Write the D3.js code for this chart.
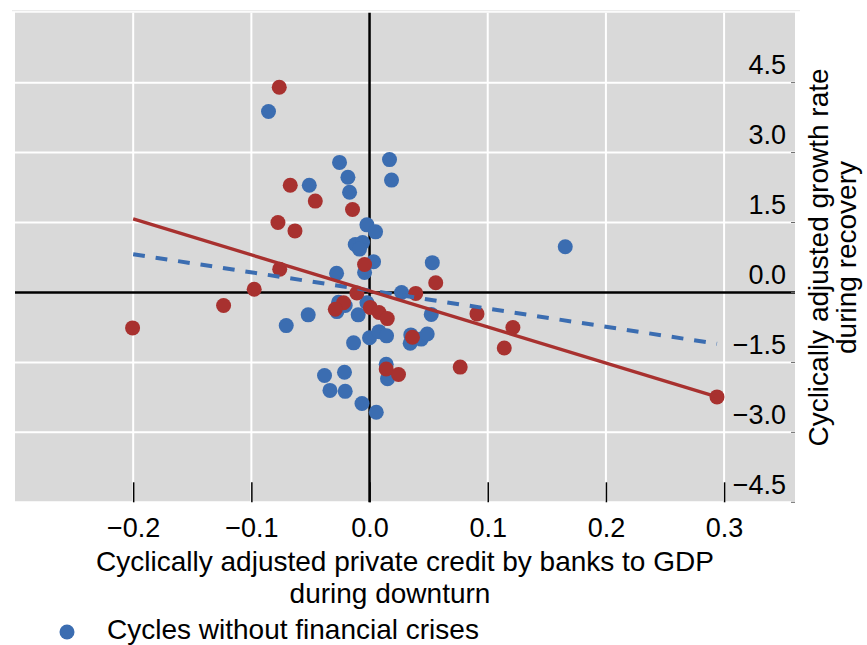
<!DOCTYPE html>
<html lang="en">
<head>
<meta charset="UTF-8" />
<title>Credit during downturn vs growth during recovery</title>
<script src="https://d3js.org/d3.v7.min.js"></script>
<style>
    body { margin: 0; background: #fff; }
    svg text { font-family: "Liberation Sans", Arial, sans-serif; fill: #000; }
</style>
</head>
<body>
<svg id="chart"></svg>
<script>
    // cycles without financial crises: [credit to GDP, growth rate]
    const noCrisis = [
        [-0.0855, 3.88], [-0.0254, 2.79], [0.0169, 2.85], [-0.0183, 2.47], [0.0186, 2.41],
        [-0.0510, 2.30], [-0.0169, 2.15], [-0.0022, 1.45], [0.0051, 1.30], [-0.0121, 1.03],
        [-0.0059, 1.07], [-0.0085, 0.93], [0.1656, 0.98], [0.0034, 0.66], [0.0531, 0.64],
        [-0.0042, 0.43], [-0.0279, 0.41], [0.0271, 0.00], [-0.0262, -0.21], [-0.0206, -0.28],
        [-0.0276, -0.41], [-0.0519, -0.48], [-0.0705, -0.71], [-0.0096, -0.48], [-0.0022, -0.22],
        [0.0522, -0.47], [-0.0135, -1.08], [0.0000, -0.97], [0.0080, -0.84], [0.0144, -0.93],
        [0.0349, -0.91], [0.0344, -1.09], [0.0437, -1.00], [0.0488, -0.89], [0.0141, -1.54],
        [0.0152, -1.85], [-0.0381, -1.78], [-0.0212, -1.71], [-0.0335, -2.10], [-0.0206, -2.12],
        [-0.0064, -2.38], [0.0057, -2.57]
    ];

    // cycles with financial crises
    const crisis = [
        [-0.0764, 4.40], [-0.0671, 2.30], [-0.0459, 1.96], [-0.0144, 1.78], [-0.0775, 1.50],
        [-0.0631, 1.32], [-0.0760, 0.50], [-0.0042, 0.60], [0.0560, 0.21], [-0.0976, 0.07],
        [-0.0107, -0.01], [0.0391, -0.02], [-0.1235, -0.28], [-0.2005, -0.76], [-0.0220, -0.22],
        [-0.0290, -0.36], [0.0006, -0.32], [0.0080, -0.43], [0.0150, -0.56], [0.0909, -0.46],
        [0.1213, -0.75], [0.0363, -0.96], [0.1140, -1.19], [0.0767, -1.60], [0.0141, -1.64],
        [0.0245, -1.76], [0.2940, -2.24]
    ];

    // fitted lines (end points)
    const noCrisisFit = [[-0.2, 0.82], [0.294, -1.10]];
    const crisisFit = [[-0.2, 1.58], [0.294, -2.24]];

    const xTicks = [-0.2, -0.1, 0.0, 0.1, 0.2, 0.3];
    const yTicks = [-4.5, -3.0, -1.5, 0.0, 1.5, 3.0, 4.5];

    const xTitle = ["Cyclically adjusted private credit by banks to GDP", "during downturn"];
    const yTitle = ["Cyclically adjusted growth rate", "during recovery"];
    const legendLabel = "Cycles without financial crises";

    const width = 867, height = 645;
    const plot = { left: 15, right: 795, top: 12.7, bottom: 502.3 };
    const blue = "#3b6db1", red = "#a8312f";

    const svg = d3.select("#chart").attr("width", width).attr("height", height);

    const x = d3.scaleLinear().domain([-0.3, 0.36]).range([plot.left, plot.right]);
    const y = d3.scaleLinear().domain([-4.5, 6.0]).range([plot.bottom, plot.top]);
    const fmt = d3.format(".1f");

    // faint frame line above the panel
    svg.append("line")
        .attr("x1", 12).attr("x2", 800).attr("y1", 10.7).attr("y2", 10.7)
        .attr("stroke", "#e6e6e6").attr("stroke-width", 1);

    svg.append("rect")
        .attr("x", plot.left).attr("y", plot.top)
        .attr("width", plot.right - plot.left).attr("height", plot.bottom - plot.top)
        .attr("fill", "#d9d9d9");

    // grid
    const grid = svg.append("g").attr("stroke", "#fff").attr("stroke-width", 2);
    grid.selectAll("line.v")
        .data(xTicks.filter(d => d !== 0))
        .join("line")
        .attr("class", "v")
        .attr("x1", d => x(d)).attr("x2", d => x(d))
        .attr("y1", plot.top).attr("y2", plot.bottom);
    grid.selectAll("line.h")
        .data(yTicks.filter(d => d !== 0))
        .join("line")
        .attr("class", "h")
        .attr("x1", plot.left).attr("x2", plot.right)
        .attr("y1", d => y(d)).attr("y2", d => y(d));

    // zero lines
    svg.append("line")
        .attr("x1", plot.left).attr("x2", plot.right)
        .attr("y1", y(0)).attr("y2", y(0))
        .attr("stroke", "#000").attr("stroke-width", 2.5);
    svg.append("line")
        .attr("x1", x(0)).attr("x2", x(0))
        .attr("y1", plot.top).attr("y2", plot.bottom)
        .attr("stroke", "#000").attr("stroke-width", 2.5);

    // x axis: inside ticks, labels below
    const xAxis = svg.append("g")
        .attr("transform", `translate(0,${plot.bottom})`)
        .call(d3.axisBottom(x).tickValues(xTicks).tickSize(-20).tickPadding(16).tickFormat(fmt));
    xAxis.select(".domain").remove();
    xAxis.selectAll(".tick line").attr("stroke", "#000").attr("stroke-width", 1.5);
    xAxis.selectAll(".tick text")
        .attr("font-size", 27)
        .attr("font-family", "Liberation Sans, Arial, sans-serif")
        .attr("fill", "#000");

    // y axis: labels inside the panel, right aligned above grid line
    const yAxis = svg.append("g");
    yAxis.selectAll("line")
        .data(yTicks)
        .join("line")
        .attr("x1", plot.right - 4).attr("x2", plot.right)
        .attr("y1", d => y(d)).attr("y2", d => y(d))
        .attr("stroke", "#666").attr("stroke-width", 1);
    yAxis.selectAll("text")
        .data(yTicks)
        .join("text")
        .attr("x", 786)
        .attr("y", d => y(d) - 8.4)
        .attr("text-anchor", "end")
        .attr("font-size", 27)
        .text(d => fmt(d));

    // points
    const dots = svg.append("g");
    dots.selectAll("circle.nc")
        .data(noCrisis)
        .join("circle")
        .attr("class", "nc")
        .attr("cx", d => x(d[0])).attr("cy", d => y(d[1]))
        .attr("r", 7.5).attr("fill", blue);
    dots.selectAll("circle.c")
        .data(crisis)
        .join("circle")
        .attr("class", "c")
        .attr("cx", d => x(d[0])).attr("cy", d => y(d[1]))
        .attr("r", 7.5).attr("fill", red);

    // fit lines
    const line = d3.line().x(d => x(d[0])).y(d => y(d[1]));
    svg.append("path")
        .attr("d", line(noCrisisFit))
        .attr("fill", "none").attr("stroke", blue)
        .attr("stroke-width", 4).attr("stroke-dasharray", "11.8,10.9");
    svg.append("path")
        .attr("d", line(crisisFit))
        .attr("fill", "none").attr("stroke", red)
        .attr("stroke-width", 3.3);

    // axis titles
    svg.append("text")
        .attr("x", 405).attr("y", 571)
        .attr("text-anchor", "middle").attr("font-size", 28)
        .text(xTitle[0]);
    svg.append("text")
        .attr("x", 390).attr("y", 603)
        .attr("text-anchor", "middle").attr("font-size", 28)
        .text(xTitle[1]);

    const yt = svg.append("g").attr("transform", "translate(828,257.5) rotate(-90)");
    yt.append("text").attr("text-anchor", "middle").attr("font-size", 28).text(yTitle[0]);
    yt.append("text").attr("y", 28).attr("text-anchor", "middle").attr("font-size", 28).text(yTitle[1]);

    // legend (first entry)
    svg.append("circle").attr("cx", 67).attr("cy", 632).attr("r", 7.5).attr("fill", blue);
    svg.append("text")
        .attr("x", 107).attr("y", 639)
        .attr("font-size", 28)
        .text(legendLabel);
</script>
</body>
</html>
